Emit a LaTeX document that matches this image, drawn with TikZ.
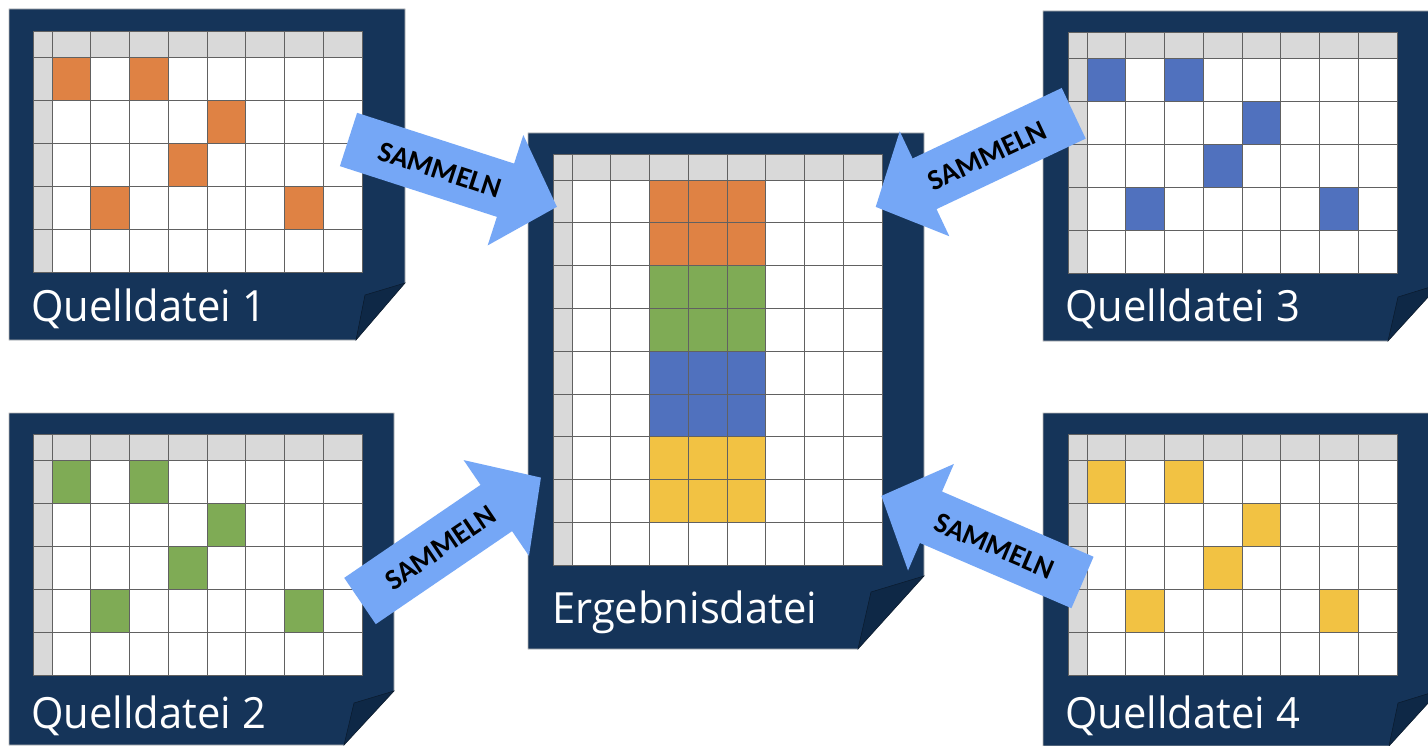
\documentclass[tikz,border=0pt]{standalone}
\usepackage{fontspec}
\setmainfont{Open Sans}
\newfontfamily\arrowfont{Carlito}
\definecolor{navy}{HTML}{153459}
\definecolor{navydark}{HTML}{0E2846}
\definecolor{hdr}{HTML}{D9D9D9}
\definecolor{cOrange}{HTML}{DF8244}
\definecolor{cGreen}{HTML}{7FAB55}
\definecolor{cBlue}{HTML}{5071BE}
\definecolor{cYellow}{HTML}{F2C243}
\definecolor{arrowblue}{HTML}{75A7F6}
\tikzset{
  docbody/.style={fill=navy, draw=gray!55, line width=0.6pt},
  docfold/.style={fill=navydark, draw=black!50!navy, line width=0.5pt},
  gridline/.style={draw=black!62, line width=0.8pt},
  doclabel/.style={text=white, font=\fontsize{43}{50}\selectfont, anchor=base west, inner sep=0pt, xscale=0.97},
  sammeln/.style={font=\arrowfont\bfseries\fontsize{29}{32}\selectfont, inner sep=0pt, text=black},
  bigarrow/.style={fill=arrowblue},
}
\newcommand\cellfill[3]{\fill[#3] ({19+(#1-1)*38.75},{26+(#2-1)*\rh}) rectangle ++(38.75,\rh);}
\newcommand\drawsheet[4]{%
  \begin{scope}[shift={(#1)}]
    \def\rh{#3}
    \fill[white] (0,0) rectangle (329,{26+#2*#3});
    \fill[hdr] (0,0) rectangle (329,26);
    \fill[hdr] (0,0) rectangle (19,{26+#2*#3});
    #4
    \foreach \i in {0,...,8} \draw[gridline] ({19+\i*38.75},0) -- ({19+\i*38.75},{26+#2*#3});
    \foreach \j in {0,...,#2} \draw[gridline] (0,{26+\j*#3}) -- (329,{26+\j*#3});
    \draw[gridline] (0,0) rectangle (329,{26+#2*#3});
  \end{scope}}
\newcommand\srcpattern[1]{\cellfill{1}{1}{#1}\cellfill{3}{1}{#1}\cellfill{5}{2}{#1}\cellfill{4}{3}{#1}\cellfill{2}{4}{#1}\cellfill{7}{4}{#1}}
\newcommand\samarrow[2]{%
  \begin{scope}[shift={(#1)}, rotate=#2]
    \fill[bigarrow] (0,-28) -- (165,-28) -- (165,-58) -- (219,0) -- (165,58) -- (165,28) -- (0,28) -- cycle;
  \end{scope}}
\begin{document}
\begin{tikzpicture}[x=1pt,y=-1pt]
\useasboundingbox (0,0) rectangle (1428,746);
\fill[white] (0,0) rectangle (1428,746);
\clip (0,0) rectangle (1428,746);

% coordinates
\coordinate (g1) at (33,31);
\coordinate (g2) at (33,434);
\coordinate (g3) at (1068,32);
\coordinate (g4) at (1068,434);
\coordinate (gc) at (553,154);

% Source 1
\fill[docbody] (9,9) -- (405,9) -- (405,283) -- (356,340) -- (9,340) -- cycle;
\fill[docfold] (405,283) -- (365,295) -- (356,340) -- cycle;
\drawsheet{g1}{5}{43}{\srcpattern{cOrange}}
\node[doclabel] (l1) at (31,322) {Quelldatei 1};

% Source 2
\fill[docbody] (9,413) -- (394,413) -- (394,691) -- (344,745) -- (9,745) -- cycle;
\fill[docfold] (394,691) -- (354,703) -- (344,745) -- cycle;
\drawsheet{g2}{5}{43}{\srcpattern{cGreen}}
\node[doclabel] (l2) at (31,728) {Quelldatei 2};

% Source 3
\fill[docbody] (1043,11) -- (1440,11) -- (1440,284) -- (1388,341) -- (1043,341) -- cycle;
\fill[docfold] (1440,284) -- (1398,297) -- (1388,341) -- cycle;
\drawsheet{g3}{5}{43}{\srcpattern{cBlue}}
\node[doclabel] (l3) at (1065,322) {Quelldatei 3};

% Source 4
\fill[docbody] (1043,413) -- (1440,413) -- (1440,690) -- (1389,746) -- (1043,746) -- cycle;
\fill[docfold] (1440,690) -- (1398,703) -- (1389,746) -- cycle;
\drawsheet{g4}{5}{43}{\srcpattern{cYellow}}
\node[doclabel] (l4) at (1065,728) {Quelldatei 4};

% Result
\fill[docbody] (528,133) -- (924,133) -- (924,576) -- (858,649) -- (528,649) -- cycle;
\fill[docfold] (924,576) -- (871,592) -- (858,649) -- cycle;
\drawsheet{gc}{9}{42.8}{%
  \foreach \c in {3,4,5}{%
    \cellfill{\c}{1}{cOrange}\cellfill{\c}{2}{cOrange}%
    \cellfill{\c}{3}{cGreen}\cellfill{\c}{4}{cGreen}%
    \cellfill{\c}{5}{cBlue}\cellfill{\c}{6}{cBlue}%
    \cellfill{\c}{7}{cYellow}\cellfill{\c}{8}{cYellow}}}
\node[doclabel] (lc) at (552,623) {Ergebnisdatei};

% Arrows
\coordinate (a1) at (348.5,139.5);
\coordinate (a2) at (360,601);
\coordinate (a3) at (1073.7,113.3);
\coordinate (a4) at (1082.5,582.5);
\samarrow{a1}{-17.9}
\samarrow{a2}{34.3}
\samarrow{a3}{205.3}
\samarrow{a4}{156.7}
\node[sammeln, rotate=-18] (t1) at (439.8,170) {SAMMELN};
\node[sammeln, rotate=34] (t2) at (440.5,548) {SAMMELN};
\node[sammeln, rotate=25] (t3) at (987.5,156) {SAMMELN};
\node[sammeln, rotate=-23] (t4) at (994.3,546) {SAMMELN};
\end{tikzpicture}
\end{document}
